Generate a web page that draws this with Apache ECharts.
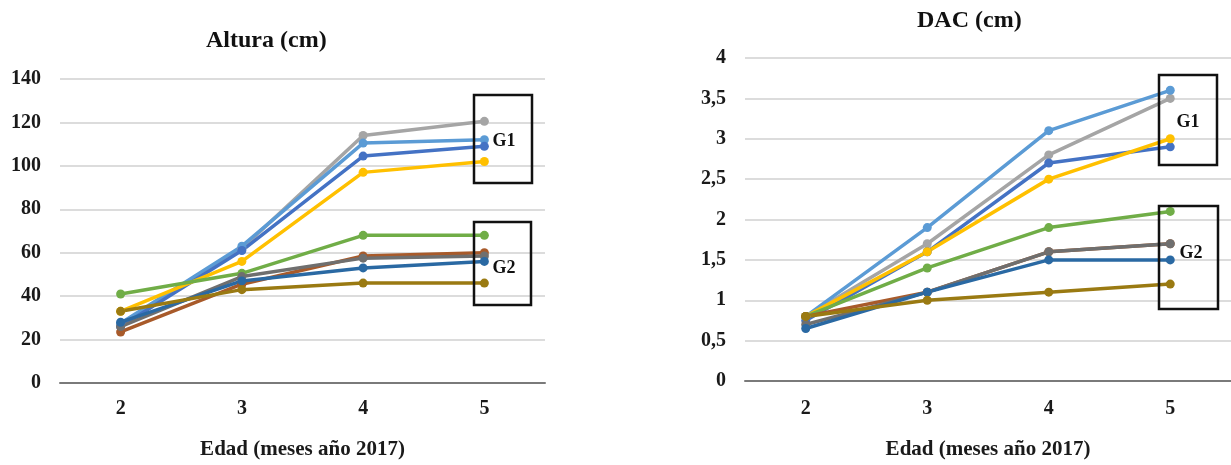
<!DOCTYPE html>
<html>
<head>
<meta charset="utf-8">
<script src="https://cdn.jsdelivr.net/npm/echarts@6/dist/echarts.min.js"></script>
<style>
html,body{margin:0;padding:0;background:#fff;}
#chart{width:1231px;height:465px;}
</style>
</head>
<body>
<div id="chart"></div>
<script>
// ---- data ----
const categories = ['2', '3', '4', '5'];
const alturaTicks = [0, 20, 40, 60, 80, 100, 120, 140];
const dacTicks = ['0', '0,5', '1', '1,5', '2', '2,5', '3', '3,5', '4'];

const seriesNames = ['S1', 'S2', 'S3', 'S4', 'S5', 'S6', 'S7', 'S8', 'S9'];
const seriesColors = ['#A5A5A5', '#5B9BD5', '#4472C4', '#FFC000', '#70AD47', '#A85A2A', '#6F6F6F', '#2A69A3', '#9A7A12'];

// Altura (cm)
const alturaGris       = [26, 62, 114, 120.5];
const alturaAzulClaro  = [27.5, 63, 110.5, 112];
const alturaAzul       = [26, 61, 104.5, 109];
const alturaAmarillo   = [33, 56, 97, 102];
const alturaVerde      = [41, 50.5, 68, 68];
const alturaMarron     = [23.5, 45.5, 58.5, 60];
const alturaGrisOscuro = [26, 49, 57.5, 58.5];
const alturaAzulAcero  = [28, 47, 53, 56];
const alturaOliva      = [33, 43, 46, 46];

// DAC (cm)
const dacGris       = [0.8, 1.7, 2.8, 3.5];
const dacAzulClaro  = [0.8, 1.9, 3.1, 3.6];
const dacAzul       = [0.75, 1.6, 2.7, 2.9];
const dacAmarillo   = [0.8, 1.6, 2.5, 3.0];
const dacVerde      = [0.8, 1.4, 1.9, 2.1];
const dacMarron     = [0.8, 1.1, 1.6, 1.7];
const dacGrisOscuro = [0.7, 1.1, 1.6, 1.7];
const dacAzulAcero  = [0.65, 1.1, 1.5, 1.5];
const dacOliva      = [0.8, 1.0, 1.1, 1.2];

const alturaSeries = [alturaGris, alturaAzulClaro, alturaAzul, alturaAmarillo, alturaVerde, alturaMarron, alturaGrisOscuro, alturaAzulAcero, alturaOliva];
const dacSeries = [dacGris, dacAzulClaro, dacAzul, dacAmarillo, dacVerde, dacMarron, dacGrisOscuro, dacAzulAcero, dacOliva];

// ---- chart ----
const FONT = "'Liberation Serif', 'DejaVu Serif', serif";
const chart = echarts.init(document.getElementById('chart'), null, {renderer: 'canvas'});

function xAxisCfg(gridIndex, margin, nameGap) {
  return {
    type: 'category', gridIndex: gridIndex, data: categories, boundaryGap: true,
    axisLine: {show: true, lineStyle: {color: '#7a7a7a', width: 2}},
    axisTick: {show: false},
    axisLabel: {margin: margin, color: '#1a1a1a', fontFamily: FONT, fontWeight: 'bold', fontSize: 20},
    name: 'Edad (meses año 2017)', nameLocation: 'middle', nameGap: nameGap,
    nameTextStyle: {color: '#1a1a1a', fontFamily: FONT, fontWeight: 'bold', fontSize: 21}
  };
}
function yAxisCfg(gridIndex, max, interval, ticks, margin) {
  return {
    type: 'value', gridIndex: gridIndex, min: 0, max: max, interval: interval,
    axisLine: {show: false}, axisTick: {show: false},
    splitLine: {show: true, lineStyle: {color: '#d0d0d0', width: 1.5}},
    axisLabel: {
      margin: margin, color: '#1a1a1a', fontFamily: FONT, fontWeight: 'bold', fontSize: 20,
      formatter: function (v) { return String(ticks[Math.round(v / interval)]); }
    }
  };
}

const series = [];
function addSeries(list, axisIndex) {
  list.forEach(function (d, i) {
    series.push({
      type: 'line', name: seriesNames[i], xAxisIndex: axisIndex, yAxisIndex: axisIndex, data: d,
      symbol: 'circle', symbolSize: 9, color: seriesColors[i],
      lineStyle: {width: 3.5, color: seriesColors[i]}, itemStyle: {color: seriesColors[i]},
      animation: false
    });
  });
}
addSeries(alturaSeries, 0);
addSeries(dacSeries, 1);

const boxStyle = {fill: 'none', stroke: '#111', lineWidth: 2.5};
const labelStyle = function (t) { return {text: t, fill: '#111', font: "bold 18px 'Liberation Serif', serif", textAlign: 'center', textVerticalAlign: 'middle'}; };

chart.setOption({
  backgroundColor: '#ffffff',
  animation: false,
  title: [
    {text: 'Altura (cm)', left: 201, top: 24, textStyle: {fontFamily: FONT, fontWeight: 'bold', fontSize: 24, color: '#111'}},
    {text: 'DAC (cm)', left: 912, top: 4, textStyle: {fontFamily: FONT, fontWeight: 'bold', fontSize: 24, color: '#111'}}
  ],
  grid: [
    {left: 60, right: 1231 - 545, top: 79, bottom: 465 - 392},
    {left: 745, right: 0, top: 58, bottom: 465 - 395}
  ],
  xAxis: [xAxisCfg(0, 16, 56), xAxisCfg(1, 18, 58)],
  yAxis: [yAxisCfg(0, 140, 20, alturaTicks, 19), yAxisCfg(1, 4, 0.5, dacTicks, 19)],
  series: series,
  graphic: [
    {type: 'rect', shape: {x: 474, y: 95, width: 58, height: 88}, style: boxStyle, z: 100},
    {type: 'rect', shape: {x: 474, y: 222, width: 57, height: 83}, style: boxStyle, z: 100},
    {type: 'text', x: 504, y: 141, style: labelStyle('G1'), z: 101},
    {type: 'text', x: 504, y: 268, style: labelStyle('G2'), z: 101},
    {type: 'rect', shape: {x: 1159, y: 75, width: 58, height: 90}, style: boxStyle, z: 100},
    {type: 'rect', shape: {x: 1159, y: 206, width: 59, height: 103}, style: boxStyle, z: 100},
    {type: 'text', x: 1188, y: 122, style: labelStyle('G1'), z: 101},
    {type: 'text', x: 1191, y: 253, style: labelStyle('G2'), z: 101}
  ]
});
</script>
</body>
</html>
